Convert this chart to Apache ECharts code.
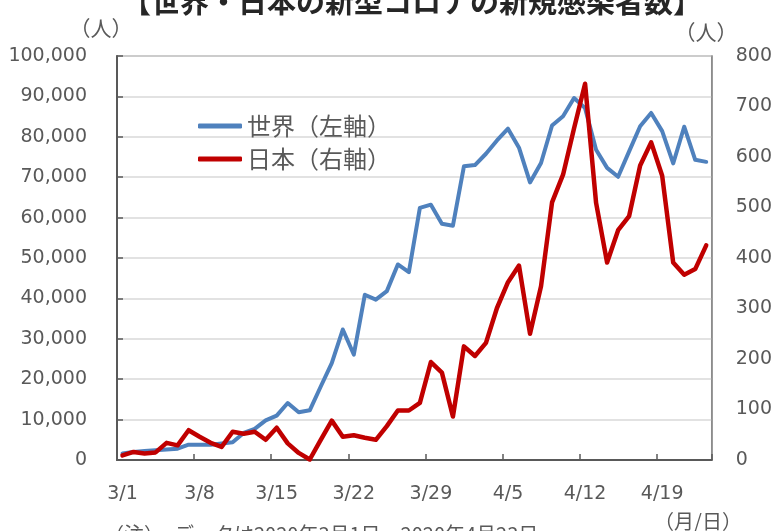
<!DOCTYPE html>
<html>
<head>
<meta charset="utf-8">
<script src="https://cdn.jsdelivr.net/npm/echarts@6/dist/echarts.min.js"></script>
<style>html,body{margin:0;padding:0;background:#fff;}#c{width:775px;height:531px;}</style>
</head>
<body>
<div id="c"></div>
<script>
const categories = ['3/1','3/2','3/3','3/4','3/5','3/6','3/7','3/8','3/9','3/10','3/11','3/12','3/13','3/14','3/15','3/16','3/17','3/18','3/19','3/20','3/21','3/22','3/23','3/24','3/25','3/26','3/27','3/28','3/29','3/30','3/31','4/1','4/2','4/3','4/4','4/5','4/6','4/7','4/8','4/9','4/10','4/11','4/12','4/13','4/14','4/15','4/16','4/17','4/18','4/19','4/20','4/21','4/22','4/23'];
const worldValues = [1600,2000,2200,2400,2600,2800,3800,3800,3800,4100,4400,6700,7700,9800,11000,14100,11800,12300,18200,24000,32300,26100,40900,39700,41800,48400,46500,62400,63200,58500,58000,72700,73000,75800,79100,82000,77300,68700,73500,82800,85100,89600,87100,76800,72300,70100,76400,82600,85900,81400,73400,82500,74300,73800];
const japanValues = [9,16,13,15,34,29,59,46,34,26,56,52,56,40,64,33,14,1,40,78,46,49,44,40,67,98,98,113,194,173,86,225,206,232,301,352,385,250,344,510,565,657,745,509,391,455,483,583,629,563,391,367,378,425];
const seriesNames = ['世界（左軸）','日本（右軸）'];
const titleText = '【世界・日本の新型コロナの新規感染者数】';
const unitText = '（人）';
const xUnitText = '（月/日）';
const noteText = '（注）　データは2020年3月1日～2020年4月23日';

const FONT = "'Noto Sans CJK JP', 'Noto Sans', sans-serif";
const NUMFONT = "'DejaVu Sans', 'Noto Sans', sans-serif";
const chart = echarts.init(document.getElementById('c'), null, {renderer: 'canvas'});
chart.setOption({
  animation: false,
  backgroundColor: '#ffffff',
  textStyle: {fontFamily: FONT},
  grid: {left: 117, right: 62, top: 56, bottom: 71, show: true, borderColor: '#8c8c8c', borderWidth: 1.5, containLabel: false},
  legend: {
    orient: 'vertical', left: 193, top: 109, itemGap: 9,
    icon: 'roundRect', itemWidth: 44, itemHeight: 5,
    textStyle: {fontSize: 24, color: '#595959', fontFamily: FONT, padding: [0,0,0,0]},
    data: seriesNames
  },
  xAxis: {
    type: 'category', data: categories, boundaryGap: true,
    axisLine: {lineStyle: {color: '#595959', width: 2}},
    axisTick: {show: true, inside: true, interval: 6, length: 6, lineStyle: {color: '#595959', width: 1.5}},
    axisLabel: {interval: 6, margin: 25, fontSize: 19, color: '#595959', fontFamily: NUMFONT},
    splitLine: {show: false}
  },
  yAxis: [
    {
      type: 'value', min: 0, max: 100000, interval: 10000, position: 'left',
      axisLine: {show: true, lineStyle: {color: '#595959', width: 2}},
      axisTick: {show: true, inside: true, length: 6, lineStyle: {color: '#595959', width: 1.5}},
      axisLabel: {margin: 30, fontSize: 19, color: '#595959', fontFamily: NUMFONT,
        formatter: v => v.toLocaleString('en-US')},
      splitLine: {show: true, lineStyle: {color: '#d9d9d9', width: 1.5}}
    },
    {
      type: 'value', min: 0, max: 800, interval: 100, position: 'right',
      axisLine: {show: true, lineStyle: {color: '#8c8c8c', width: 1.5}},
      axisTick: {show: false},
      axisLabel: {margin: 24, fontSize: 19, color: '#595959', fontFamily: NUMFONT},
      splitLine: {show: false}
    }
  ],
  series: [
    {name: seriesNames[0], type: 'line', yAxisIndex: 0, data: worldValues, showSymbol: false, symbol: 'none',
      color: '#4F81BD', lineStyle: {color: '#4F81BD', width: 4, cap: 'round', join: 'round'}},
    {name: seriesNames[1], type: 'line', yAxisIndex: 1, data: japanValues, showSymbol: false, symbol: 'none',
      color: '#C00000', lineStyle: {color: '#C00000', width: 4.5, cap: 'round', join: 'round'}}
  ],
  graphic: [
    {type: 'text', x: 412, y: 2, style: {text: titleText, font: "bold 29px " + FONT, fill: '#262626', textAlign: 'center', textVerticalAlign: 'middle'}},
    {type: 'text', x: 101, y: 28, style: {text: unitText, font: "21px " + FONT, fill: '#595959', textAlign: 'center', textVerticalAlign: 'middle'}},
    {type: 'text', x: 706, y: 32, style: {text: unitText, font: "21px " + FONT, fill: '#595959', textAlign: 'center', textVerticalAlign: 'middle'}},
    {type: 'text', x: 698, y: 521, style: {text: xUnitText, font: "20px " + FONT, fill: '#595959', textAlign: 'center', textVerticalAlign: 'middle'}},
    {type: 'text', x: 104, y: 534, style: {text: noteText, font: "20px " + FONT, fill: '#595959', textAlign: 'left', textVerticalAlign: 'middle'}}
  ]
});
</script>
</body>
</html>
